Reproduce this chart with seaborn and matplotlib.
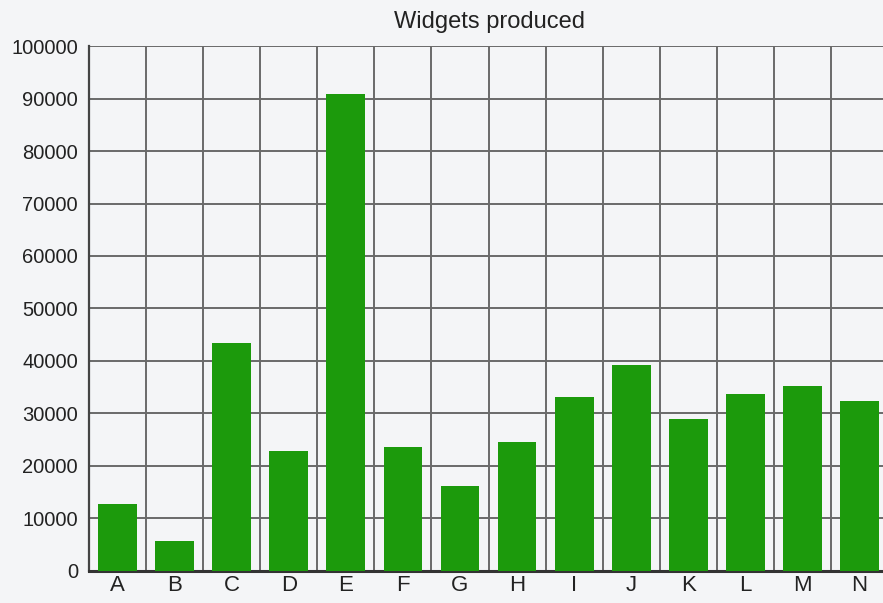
import numpy as np
import pandas as pd
import matplotlib.pyplot as plt
import seaborn as sns
from matplotlib.ticker import MultipleLocator, FixedLocator

sns.set_theme(style="white")
plt.rcParams['font.family'] = ['Liberation Sans', 'DejaVu Sans']

categories = ['A', 'B', 'C', 'D', 'E', 'F', 'G', 'H', 'I', 'J', 'K', 'L', 'M', 'N']
widgets = [12800, 5700, 43400, 22800, 90900, 23600, 16200, 24600, 33100, 39200, 29000, 33700, 35200, 32400]

df = pd.DataFrame({'cat': categories, 'widgets': widgets})

bg = '#f4f5f7'
fig = plt.figure(figsize=(8.83, 6.03), dpi=100, facecolor=bg)
ax = fig.add_axes([0.1008, 0.0531, 0.9049, 0.8706])
ax.set_facecolor(bg)

sns.barplot(data=df, x='cat', y='widgets', color='#1c9a0c', saturation=1,
            width=0.68, linewidth=0, ax=ax, zorder=3)

ax.set_xlim(-0.5, len(categories) - 0.5)
ax.set_ylim(0, 100000)
ax.yaxis.set_major_locator(MultipleLocator(10000))
ax.xaxis.set_minor_locator(FixedLocator(np.arange(-0.5, len(categories), 1.0)))
ax.set_axisbelow(True)
ax.grid(axis='y', which='major', color='#6a6a6a', linewidth=1.4)
ax.grid(axis='x', which='minor', color='#6a6a6a', linewidth=1.4)
ax.tick_params(axis='both', which='both', length=0, colors='#222222')
ax.tick_params(axis='x', pad=3, labelsize=16)
ax.tick_params(axis='y', pad=8, labelsize=14.5)

for side in ['top', 'right']:
    ax.spines[side].set_visible(False)
ax.spines['left'].set_color('#444444')
ax.spines['left'].set_linewidth(1.6)
ax.spines['bottom'].set_color('#333333')
ax.spines['bottom'].set_linewidth(2.2)

ax.set_xlabel('')
ax.set_ylabel('')
fig.text(0.554, 0.963, 'Widgets produced', ha='center', va='center', fontsize=17, color='#222222')

fig.savefig('out.png', dpi=100, facecolor=bg)
